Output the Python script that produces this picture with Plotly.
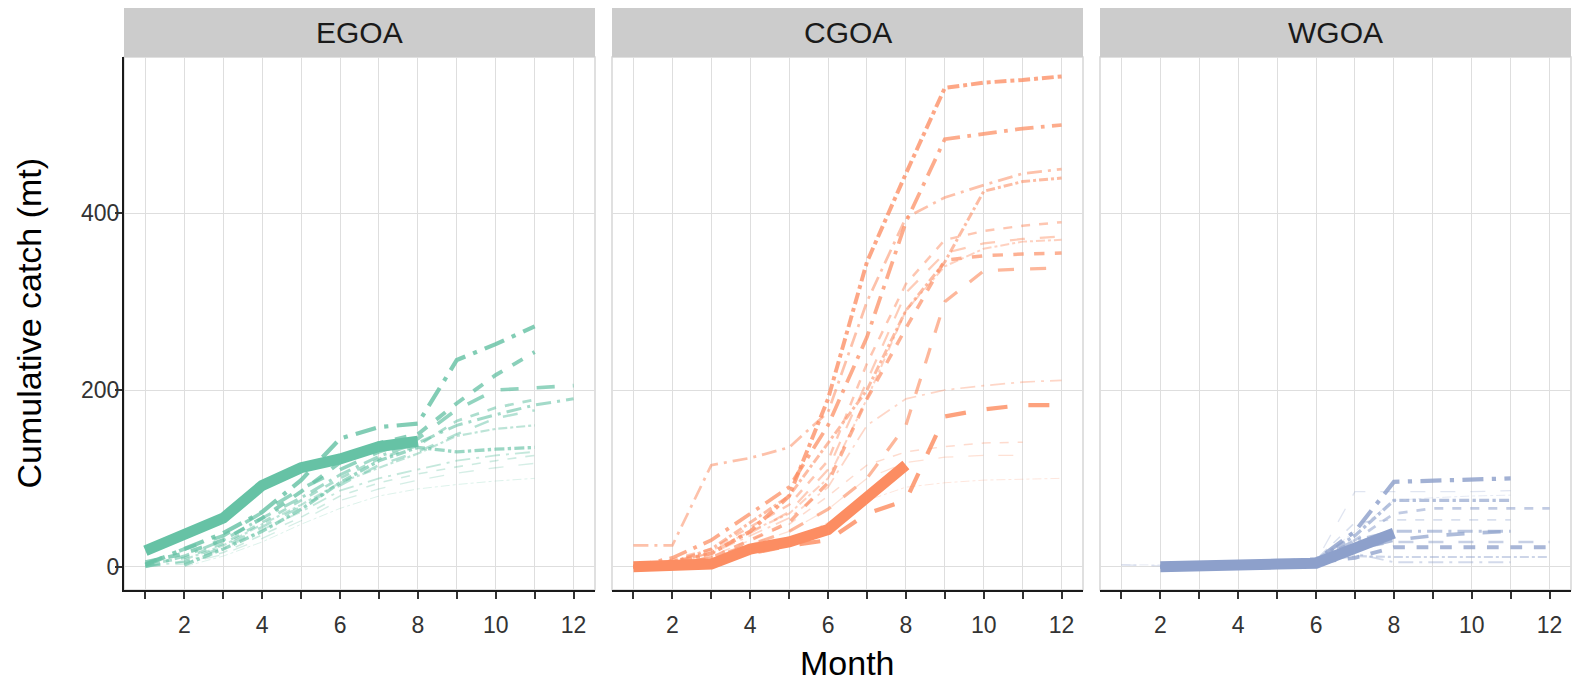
import plotly.graph_objects as go

# Months on the x axis and their labels (odd months carry a tick but no label)
MONTHS = list(range(1, 13))
MONTH_LABELS = ["", "2", "", "4", "", "6", "", "8", "", "10", "", "12"]

REGIONS = ["EGOA", "CGOA", "WGOA"]
REGION_COLORS = ["#66c2a5", "#fc8d62", "#8da0cb"]

# Cumulative catch (mt) by month for past years, oldest first; None = no data
EGOA_PAST = [
    [None, 0, 12, 28, 48, 66, 80, 88, 93, 97, 100, None],
    [0, 3, 14, 32, 52, 75, 88, 98, 106, 112, 117, None],
    [None, 4, 16, 36, 56, 80, 95, 105, 113, 120, 126, None],
    [1, 5, 20, 42, 62, 86, 100, 110, 120, 126, 130, None],
    [None, 8, 24, 48, 70, 95, 112, 128, 148, 156, 160, None],
    [0, 6, 22, 45, 68, 92, 115, 130, 150, 168, 177, None],
    [2, 10, 26, 50, 75, 100, 122, 137, 165, 180, 189, None],
    [0, 12, 30, 55, 78, 104, 125, 140, 160, 172, 183, 190],
    [None, 2, 20, 40, 65, 95, 120, 135, 130, 133, 135, None],
    [3, 20, 35, 62, 88, 110, 130, 145, 178, 200, 203, 205],
    [5, 15, 30, 55, 85, 118, 140, 150, 185, 217, 243, None],
    [2, 20, 38, 62, 98, 145, 158, 162, 234, 252, 272, None],
]
EGOA_NOW = [18, 36, 55, 92, 112, 122, 136, 142]

CGOA_PAST = [
    [0, 2, 8, 18, 30, 50, 75, 90, 95, 98, 99, 100],
    [0, 3, 10, 25, 40, 65, 100, 118, 124, 126, 126, None],
    [0, 4, 12, 30, 48, 80, 115, 130, 136, 140, 141, None],
    [0, 5, 15, 35, 55, 90, 160, 190, 200, 205, 209, 211],
    [0, 6, 18, 40, 60, 100, 190, 290, 340, 360, 368, 370],
    [0, 4, 16, 38, 62, 110, 210, 310, 355, 366, 371, 374],
    [0, 8, 20, 45, 70, 120, 230, 320, 370, 380, 386, 390],
    [24, 24, 115, 123, 135, 175, 300, 395, 418, 432, 445, 450],
    [0, 5, 20, 50, 80, 140, 200, 290, 345, 425, 436, 440],
    [0, 3, 10, 25, 40, 65, 100, 160, 300, 335, 337, 338],
    [0, 2, 10, 30, 50, 95, 190, 270, 347, 352, 354, 355],
    [0, 10, 30, 60, 90, 160, 260, 390, 484, 490, 496, 500],
    [0, 5, 15, 40, 80, 190, 345, 445, 542, 548, 551, 555],
    [0, 1, 6, 15, 24, 30, 60, 75, 170, 178, 183, 183],
]
CGOA_NOW = [0, 0, 3, 20, 28, 42, 78, 115]

WGOA_PAST = [
    [2, 2, 3, 4, 5, 6, 40, 75, 78, 80, 81, None],
    [2, 1, 2, 3, 4, 6, 85, 85, 85, 85, 86, None],
    [None, 0, 2, 3, 5, 8, 50, 53, 53, 53, 53, None],
    [None, 0, 1, 2, 3, 5, 15, 5, 5, 5, 5, None],
    [None, 0, 1, 3, 4, 6, 12, 11, 11, 11, 11, 11],
    [None, 0, 2, 4, 6, 10, 20, 28, 28, 28, 28, 28],
    [None, 0, 1, 2, 4, 6, 30, 60, 66, 66, 66, 66],
    [None, 0, 1, 2, 3, 6, 30, 40, 40, 40, 40, None],
    [None, 0, 2, 3, 5, 8, 35, 75, 75, 75, 75, None],
    [None, 0, 1, 2, 3, 6, 20, 30, 35, 38, 40, None],
    [None, 0, 1, 2, 3, 5, 10, 22, 22, 22, 22, 22],
    [None, 0, 1, 2, 4, 7, 40, 96, 97, 98, 100, None],
]
WGOA_NOW = [None, 0, 0, 2, 3, 4, 22, 38]

Y_TICKS = [0, 200, 400]

PAST = [EGOA_PAST, CGOA_PAST, WGOA_PAST]
NOW = [EGOA_NOW, CGOA_NOW, WGOA_NOW]

DASHES = ["dashdot", "longdash", "dash", "longdashdot"]


def rgba(hex_color, a):
    h = hex_color.lstrip("#")
    r, g, b = int(h[0:2], 16), int(h[2:4], 16), int(h[4:6], 16)
    return f"rgba({r},{g},{b},{a:.3f})"


# Figure geometry (pixels)
W, H = 1578, 681
ML, MR, MT, MB = 124, 7, 8, 91
PW = W - ML - MR
PH = H - MT - MB
PANELS_PX = [(124, 595), (612, 1083), (1100, 1571)]
STRIP_H = 49
Y_TOP = (PH - STRIP_H) / PH

FONT = "Liberation Sans, Arial, sans-serif"

fig = go.Figure()

for k, region in enumerate(REGIONS):
    color = REGION_COLORS[k]
    xa = "x" if k == 0 else f"x{k + 1}"
    ya = "y" if k == 0 else f"y{k + 1}"
    past = PAST[k]
    n = len(past)
    for i, series in enumerate(past):
        t = i / (n - 1)
        fig.add_trace(go.Scatter(
            x=MONTHS[:len(series)], y=series, mode="lines",
            xaxis=xa, yaxis=ya, showlegend=False, hoverinfo="skip",
            connectgaps=False,
            line=dict(color=rgba(color, 0.22 + 0.6 * t),
                      width=1.0 + 3.2 * t,
                      dash=DASHES[i % len(DASHES)]),
        ))
    now = NOW[k]
    fig.add_trace(go.Scatter(
        x=MONTHS[:len(now)], y=now, mode="lines",
        xaxis=xa, yaxis=ya, showlegend=False, hoverinfo="skip",
        line=dict(color=color, width=11),
    ))

axis_font = dict(family=FONT, size=23, color="#333333")
layout = dict(
    width=W, height=H,
    margin=dict(l=ML, r=MR, t=MT, b=MB),
    paper_bgcolor="white", plot_bgcolor="white",
    showlegend=False,
)

shapes = []
annotations = []
for k, region in enumerate(REGIONS):
    a, b = PANELS_PX[k]
    dom = [(a - ML) / PW, (b - ML) / PW]
    sfx = "" if k == 0 else str(k + 1)
    layout[f"xaxis{sfx}"] = dict(
        domain=dom, range=[0.45, 12.55], anchor=f"y{sfx}",
        tickmode="array", tickvals=MONTHS, ticktext=MONTH_LABELS,
        ticks="outside", ticklen=7, tickwidth=1.6, tickcolor="#333333",
        ticklabelstandoff=6,
        showgrid=True, gridcolor="#dedede", gridwidth=1.4,
        zeroline=False, showline=True, linecolor="#1a1a1a", linewidth=2.2,
        tickfont=axis_font,
    )
    layout[f"yaxis{sfx}"] = dict(
        domain=[0, Y_TOP], range=[-26.4, 577], anchor=f"x{sfx}",
        tickmode="array", tickvals=Y_TICKS,
        showticklabels=(k == 0),
        ticks="outside" if k == 0 else "", ticklen=7, tickwidth=1.6,
        tickcolor="#333333",
        ticklabelstandoff=-9,
        showgrid=True, gridcolor="#dedede", gridwidth=1.4,
        zeroline=False, showline=(k == 0), linecolor="#1a1a1a", linewidth=2.2,
        tickfont=axis_font,
    )
    xref = "x domain" if k == 0 else f"x{k + 1} domain"
    yref = "y domain" if k == 0 else f"y{k + 1} domain"
    # light panel border
    shapes.append(dict(type="rect", xref=xref, yref=yref, x0=0, x1=1, y0=0, y1=1,
                       line=dict(color="#d6d6d6", width=1.5), layer="below"))
    # facet strip
    shapes.append(dict(type="rect", xref="paper", yref="paper",
                       x0=dom[0], x1=dom[1], y0=Y_TOP, y1=1,
                       fillcolor="#cccccc", line=dict(width=0)))
    annotations.append(dict(
        text=region, xref="paper", yref="paper",
        x=(dom[0] + dom[1]) / 2, y=(Y_TOP + 1) / 2,
        xanchor="center", yanchor="middle", showarrow=False,
        font=dict(family=FONT, size=30, color="#1a1a1a"),
    ))

title_font = dict(family=FONT, size=34, color="#000000")
annotations.append(dict(
    text="Month", xref="paper", yref="paper",
    x=((PANELS_PX[0][0] + PANELS_PX[2][1]) / 2 - ML) / PW, y=0,
    yshift=-73, xanchor="center", yanchor="middle", showarrow=False, font=title_font,
))
annotations.append(dict(
    text="Cumulative catch (mt)", xref="paper", yref="paper",
    x=0, xshift=-96, y=Y_TOP / 2, textangle=-90,
    xanchor="center", yanchor="middle", showarrow=False, font=title_font,
))

layout["shapes"] = shapes
layout["annotations"] = annotations
fig.update_layout(**layout)

fig.write_html("out.html")
